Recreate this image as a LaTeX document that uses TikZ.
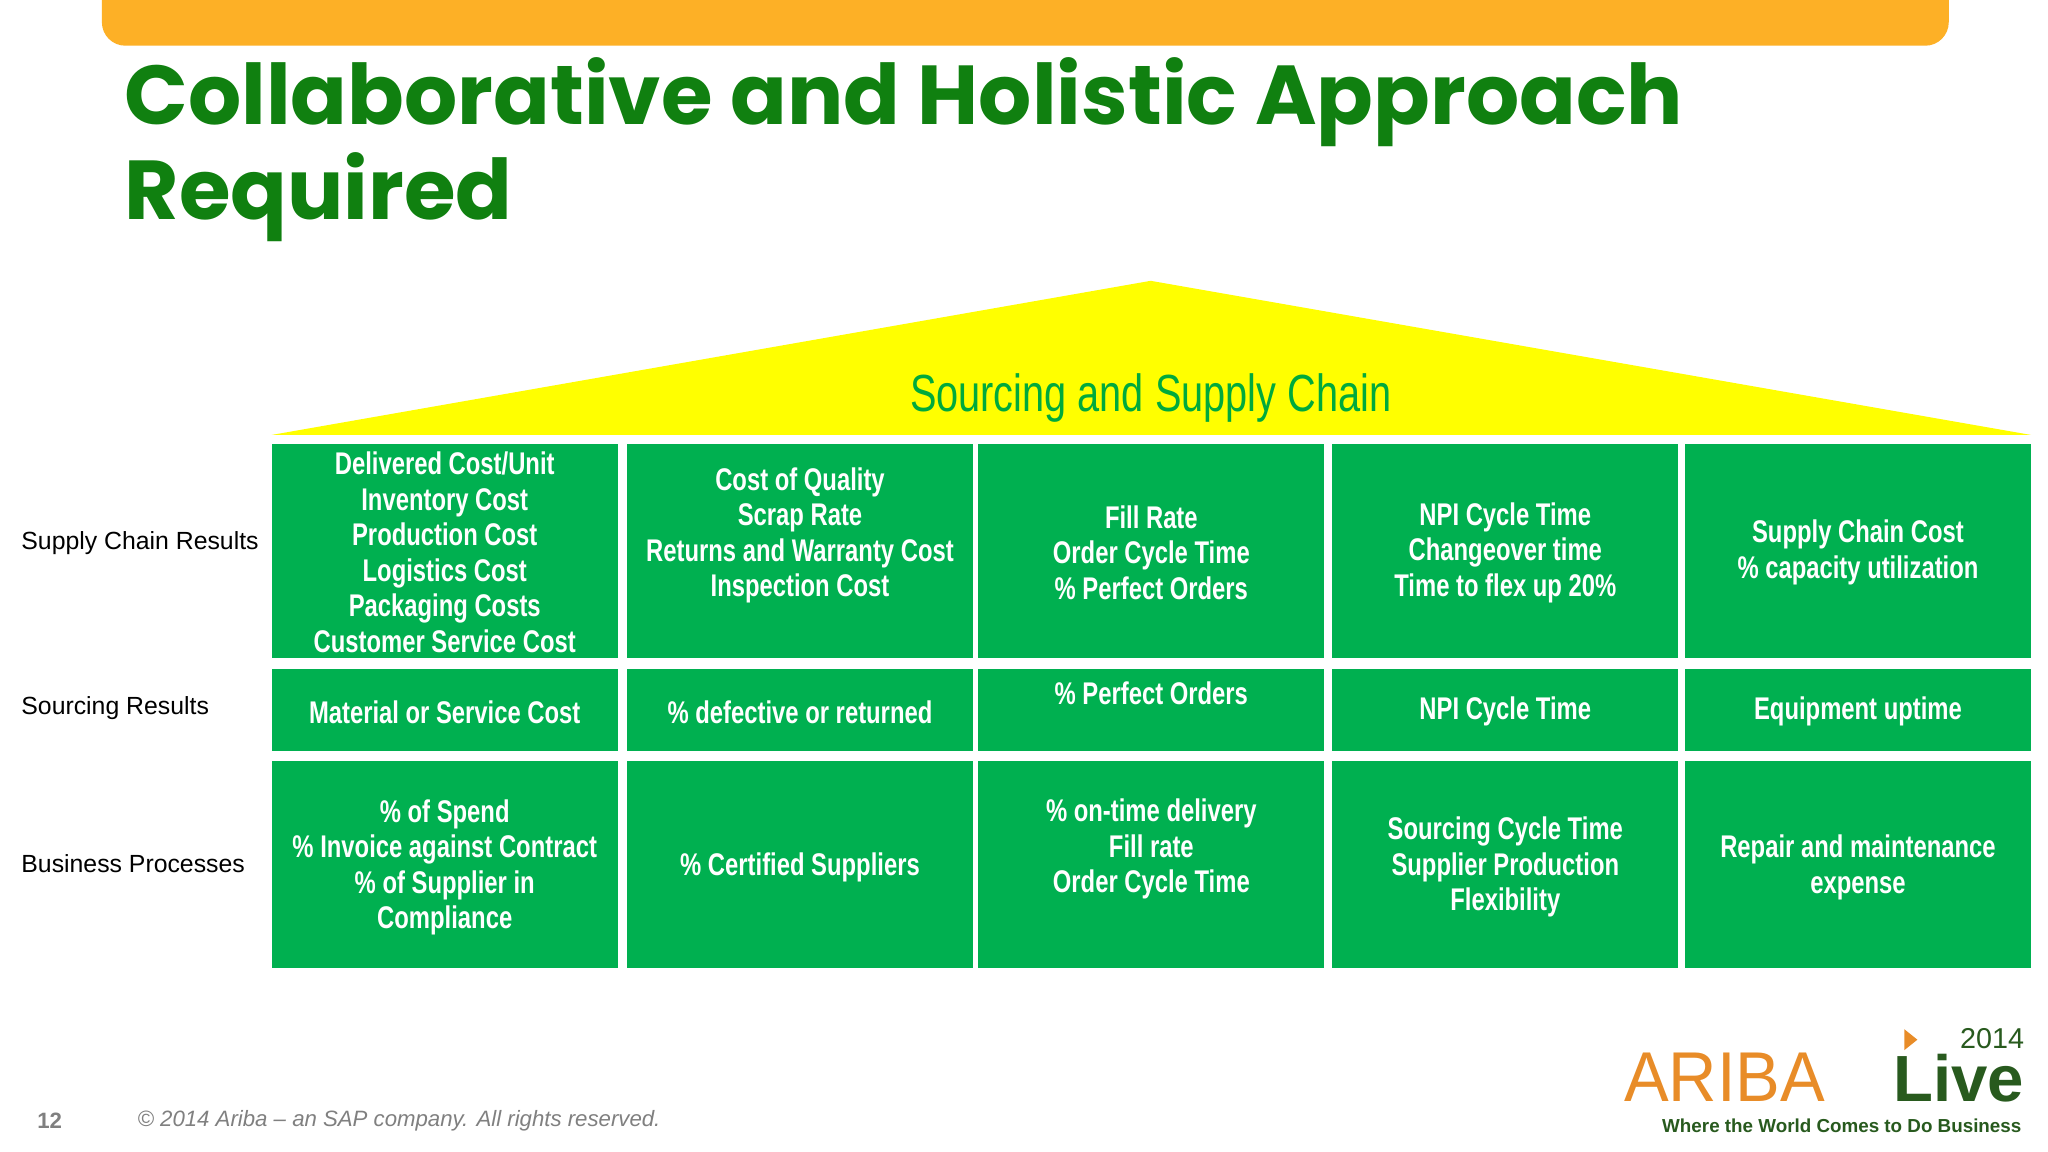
\documentclass[tikz,border=0pt]{standalone}
\usepackage{fontspec}
\setmainfont{Liberation Sans}
\newfontfamily\titlefont{Poppins}
\newfontfamily\narrowfont[FakeStretch=0.76]{Liberation Sans}
\newfontfamily\aribafont[FakeStretch=0.95]{Liberation Sans}
\definecolor{orangebar}{RGB}{253,176,38}
\definecolor{titlegreen}{RGB}{16,128,16}
\definecolor{boxgreen}{RGB}{0,176,80}
\definecolor{ribbon}{RGB}{255,255,0}
\definecolor{headgreen}{RGB}{0,170,60}
\definecolor{arib}{RGB}{232,140,40}
\definecolor{livegreen}{RGB}{40,90,30}
\tikzset{
  cell/.style={fill=boxgreen,draw=none,text=white,align=center,font=\narrowfont\bfseries\fontsize{12}{13.6}\selectfont,inner sep=0pt},
  rowlab/.style={anchor=west,font=\fontsize{9.5}{11}\selectfont,inner sep=0pt}
}
\begin{document}
\begin{tikzpicture}[x=0.5pt,y=-0.5pt]
\useasboundingbox (0,0) rectangle (1568,882);
\fill[white] (0,0) rectangle (1568,882);
\fill[orangebar,rounded corners=9pt] (78,-30) rectangle (1492,35);
\node[anchor=base west,text=titlegreen,font=\titlefont\bfseries\fontsize{32}{36}\selectfont,inner sep=0pt] (t1) at (95,95) {Collaborative and Holistic Approach};
\node[anchor=base west,text=titlegreen,font=\titlefont\bfseries\fontsize{32}{36}\selectfont,inner sep=0pt] (t2) at (95,168) {Required};
\fill[ribbon] (881,215) -- (1555,333) -- (208,333) -- cycle;
\node[text=headgreen,font=\narrowfont\fontsize{20}{22}\selectfont] (hd) at (881,305) {Sourcing and Supply Chain};
\foreach \xa/\xb [count=\i] in {208/473,480/745,749/1014,1020/1285,1290/1555}{
  \fill[boxgreen] (\xa,340) rectangle (\xb,504);
  \fill[boxgreen] (\xa,512) rectangle (\xb,575);
  \fill[boxgreen] (\xa,583) rectangle (\xb,741);
}
\node[cell] (a1) at (340.5,423) {Delivered Cost/Unit\\Inventory Cost\\Production Cost\\Logistics Cost\\Packaging Costs\\Customer Service Cost};
\node[cell] (a2) at (612.5,410) {Cost of Quality\\Scrap Rate\\Returns and Warranty Cost\\Inspection Cost};
\node[cell] (a3) at (881.5,423) {Fill Rate\\Order Cycle Time\\\% Perfect Orders};
\node[cell] (a4) at (1152.5,423) {NPI Cycle Time\\Changeover time\\Time to flex up 20\%};
\node[cell] (a5) at (1422.5,423) {Supply Chain Cost\\\% capacity utilization};
\node[cell] (b1) at (340.5,545) {Material or Service Cost};
\node[cell] (b2) at (612.5,545) {\% defective or returned};
\node[cell] (b3) at (881.5,531) {\% Perfect Orders};
\node[cell] (b4) at (1152.5,545) {NPI Cycle Time};
\node[cell] (b5) at (1422.5,545) {Equipment uptime};
\node[cell] (c1) at (340.5,664) {\% of Spend\\\% Invoice against Contract\\\% of Supplier in\\Compliance};
\node[cell] (c2) at (612.5,664) {\% Certified Suppliers};
\node[cell] (c3) at (881.5,650) {\% on-time delivery\\Fill rate\\Order Cycle Time};
\node[cell] (c4) at (1152.5,664) {Sourcing Cycle Time\\Supplier Production\\Flexibility};
\node[cell] (c5) at (1422.5,664) {Repair and maintenance\\expense};
\node[rowlab] (r1) at (16,416) {Supply Chain Results};
\node[rowlab] (r2) at (16,542) {Sourcing Results};
\node[rowlab] (r3) at (16,661) {Business Processes};
\node[text=gray,font=\bfseries\fontsize{8.5}{10}\selectfont] (pg) at (38,858) {12};
\node[anchor=west,text=gray,font=\itshape\fontsize{8.5}{10}\selectfont,inner sep=0pt] (cp) at (105,858) {© 2014 Ariba – an SAP company. All rights reserved.};
\node[anchor=base west,text=arib,font=\aribafont\fontsize{27}{28}\selectfont,inner sep=0pt] (ar) at (1243,843) {ARIBA};
\node[anchor=base east,text=livegreen,font=\bfseries\fontsize{25}{28}\selectfont,inner sep=0pt] (lv) at (1550,843) {Live};
\node[anchor=base east,text=livegreen,font=\fontsize{11}{13}\selectfont,inner sep=0pt] (yr) at (1550,803) {2014};
\fill[arib] (1458,788) -- (1468,796) -- (1458,804) -- cycle;
\node[anchor=base east,text=livegreen,font=\bfseries\fontsize{7.2}{8}\selectfont,inner sep=0pt] (tg) at (1548,867) {Where the World Comes to Do Business};
\end{tikzpicture}
\end{document}
